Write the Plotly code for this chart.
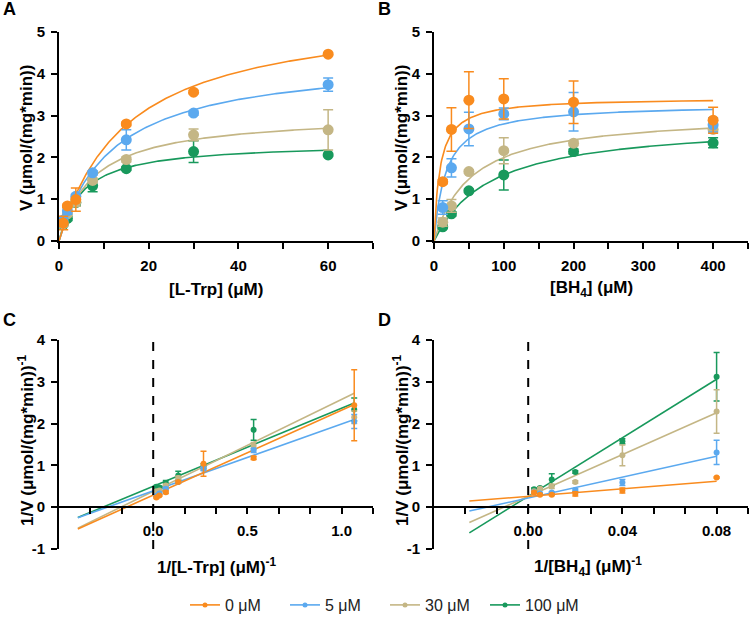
import numpy as np
import plotly.graph_objects as go

# ---------------- data ----------------
SERIES = ["0 μM", "5 μM", "30 μM", "100 μM"]
COLORS = ["#F98B1E", "#5BA9EF", "#C4B685", "#18995C"]

# Panel A: V vs [L-Trp]
TRP_CONC = [0.9375, 1.875, 3.75, 7.5, 15, 30, 60]
V_TRP_0 = [0.43, 0.84, 0.99, None, 2.80, 3.56, 4.47]
V_TRP_5 = [0.50, 0.72, 1.07, 1.63, 2.42, 3.06, 3.74]
V_TRP_30 = [0.41, 0.65, 0.93, 1.45, 1.95, 2.54, 2.66]
V_TRP_100 = [0.40, 0.54, 0.92, 1.32, 1.73, 2.14, 2.06]
SD_TRP_0 = [0.16, 0.04, 0.28, 0.05, 0.04, 0.04, 0.03]
SD_TRP_5 = [0.05, 0.08, 0.05, 0.05, 0.24, 0.05, 0.16]
SD_TRP_30 = [0.05, 0.05, 0.10, 0.05, 0.06, 0.14, 0.48]
SD_TRP_100 = [0.05, 0.05, 0.08, 0.14, 0.04, 0.26, 0.03]
# Michaelis-Menten fit parameters (Vmax, Km)
FIT_TRP_VMAX = [5.56, 4.40, 3.04, 2.36]
FIT_TRP_KM = [15.0, 12.0, 7.6, 5.2]

# Panel B: V vs [BH4]
BH4_CONC = [12.5, 25, 50, 100, 200, 400]
V_BH4_0 = [1.42, 2.67, 3.37, 3.40, 3.32, 2.89]
V_BH4_5 = [0.80, 1.75, 2.68, 3.04, 3.09, 2.78]
V_BH4_30 = [0.45, 0.84, 1.66, 2.16, 2.34, 2.67]
V_BH4_100 = [0.34, 0.65, 1.20, 1.58, 2.14, 2.35]
SD_BH4_0 = [0.05, 0.52, 0.68, 0.48, 0.51, 0.31]
SD_BH4_5 = [0.16, 0.22, 0.40, 0.14, 0.46, 0.17]
SD_BH4_30 = [0.10, 0.15, 0.04, 0.31, 0.06, 0.08]
SD_BH4_100 = [0.04, 0.05, 0.04, 0.36, 0.06, 0.12]
FIT_BH4_VMAX = [3.43, 3.28, 3.06, 2.86]
FIT_BH4_KM = [8.5, 17.0, 53.0, 81.0]

# Panel C: Lineweaver-Burk, L-Trp
INV_TRP = [1.067, 0.533, 0.267, 0.133, 0.067, 0.033, 0.017]
INVV_TRP_0 = [2.44, 1.18, 1.04, 0.60, 0.36, 0.28, 0.23]
INVV_TRP_5 = [2.05, 1.36, 0.92, 0.60, 0.44, 0.33, 0.27]
INVV_TRP_30 = [2.15, 1.47, 0.94, 0.70, 0.52, 0.40, 0.38]
INVV_TRP_100 = [2.34, 1.85, 0.98, 0.76, 0.58, 0.47, 0.49]
SDI_TRP_0 = [0.85, 0.04, 0.30, 0.03, 0.03, 0.02, 0.02]
SDI_TRP_5 = [0.17, 0.05, 0.04, 0.03, 0.03, 0.02, 0.02]
SDI_TRP_30 = [0.15, 0.08, 0.06, 0.04, 0.03, 0.02, 0.03]
SDI_TRP_100 = [0.27, 0.25, 0.06, 0.10, 0.06, 0.03, 0.03]
LB_TRP_SLOPE = [2.03, 1.60, 2.20, 1.87]
LB_TRP_INTERCEPT = [0.29, 0.39, 0.38, 0.50]
LB_TRP_XSPAN = [-0.4, 1.067]

# Panel D: Lineweaver-Burk, BH4
INV_BH4 = [0.08, 0.04, 0.02, 0.01, 0.005, 0.0025]
INVV_BH4_0 = [0.71, 0.40, 0.32, 0.30, 0.30, 0.35]
INVV_BH4_5 = [1.31, 0.59, 0.41, 0.35, 0.33, 0.36]
INVV_BH4_30 = [2.29, 1.24, 0.60, 0.50, 0.44, 0.38]
INVV_BH4_100 = [3.12, 1.58, 0.84, 0.66, 0.46, 0.43]
SDI_BH4_0 = [0.02, 0.06, 0.05, 0.02, 0.02, 0.03]
SDI_BH4_5 = [0.29, 0.07, 0.03, 0.02, 0.02, 0.02]
SDI_BH4_30 = [0.52, 0.25, 0.03, 0.05, 0.03, 0.02]
SDI_BH4_100 = [0.58, 0.06, 0.03, 0.14, 0.03, 0.03]
LB_BH4_SLOPE = [4.5, 12.5, 25.0, 35.0]
LB_BH4_INTERCEPT = [0.26, 0.22, 0.26, 0.26]
LB_BH4_XSPAN = [-0.025, 0.08]

# tick labels
A_XTICKS = [0, 10, 20, 30, 40, 50, 60, 70]
A_XLABELS = ["0", "", "20", "", "40", "", "60", ""]
B_XTICKS = [0, 50, 100, 150, 200, 250, 300, 350, 400, 450]
B_XLABELS = ["0", "", "100", "", "200", "", "300", "", "400", ""]
AB_YTICKS = [0, 1, 2, 3, 4, 5]
C_XTICKS = [k / 6 for k in range(-2, 8)]
C_XLABELS = ["", "", "0.0", "", "", "0.5", "", "", "1.0", ""]
D_XTICKS = [k * 0.04 / 3 for k in range(-2, 8)]
D_XLABELS = ["", "", "0.00", "", "", "0.04", "", "", "0.08", ""]
CD_YTICKS = [-1, 0, 1, 2, 3, 4]

V_TRP = [V_TRP_0, V_TRP_5, V_TRP_30, V_TRP_100]
SD_TRP = [SD_TRP_0, SD_TRP_5, SD_TRP_30, SD_TRP_100]
V_BH4 = [V_BH4_0, V_BH4_5, V_BH4_30, V_BH4_100]
SD_BH4 = [SD_BH4_0, SD_BH4_5, SD_BH4_30, SD_BH4_100]
INVV_TRP = [INVV_TRP_0, INVV_TRP_5, INVV_TRP_30, INVV_TRP_100]
SDI_TRP = [SDI_TRP_0, SDI_TRP_5, SDI_TRP_30, SDI_TRP_100]
INVV_BH4 = [INVV_BH4_0, INVV_BH4_5, INVV_BH4_30, INVV_BH4_100]
SDI_BH4 = [SDI_BH4_0, SDI_BH4_5, SDI_BH4_30, SDI_BH4_100]

# ---------------- layout geometry (pixels) ----------------
W, H = 750, 617
def px(x):
    return x / W
def py(y):
    return 1 - y / H

XA = [px(59), px(373)]
XB = [px(434), px(748)]
Y_TOP = [py(241), py(32)]
Y_BOT = [py(549), py(340)]

FONT = "Liberation Sans, Arial, sans-serif"

fig = go.Figure()

order = [3, 2, 1, 0]  # draw orange last (on top)

# Panel A & B fits and points
for i in order:
    xs = np.linspace(0, max(TRP_CONC), 300)
    fig.add_trace(go.Scatter(x=xs, y=FIT_TRP_VMAX[i] * xs / (FIT_TRP_KM[i] + xs),
                             mode="lines", line=dict(color=COLORS[i], width=1.6),
                             xaxis="x", yaxis="y", showlegend=False, hoverinfo="skip"))
    xs = np.linspace(0, max(BH4_CONC), 400)
    fig.add_trace(go.Scatter(x=xs, y=FIT_BH4_VMAX[i] * xs / (FIT_BH4_KM[i] + xs),
                             mode="lines", line=dict(color=COLORS[i], width=1.6),
                             xaxis="x2", yaxis="y2", showlegend=False, hoverinfo="skip"))
for i in order:
    fig.add_trace(go.Scatter(x=TRP_CONC, y=V_TRP[i], mode="markers",
                             marker=dict(color=COLORS[i], size=11),
                             error_y=dict(type="data", array=SD_TRP[i], color=COLORS[i],
                                          thickness=1.5, width=5),
                             xaxis="x", yaxis="y", showlegend=False))
    fig.add_trace(go.Scatter(x=BH4_CONC, y=V_BH4[i], mode="markers",
                             marker=dict(color=COLORS[i], size=11),
                             error_y=dict(type="data", array=SD_BH4[i], color=COLORS[i],
                                          thickness=1.5, width=5),
                             xaxis="x2", yaxis="y2", showlegend=False))

# Panel C & D
for i in order:
    xs = np.array(LB_TRP_XSPAN)
    fig.add_trace(go.Scatter(x=xs, y=LB_TRP_SLOPE[i] * xs + LB_TRP_INTERCEPT[i],
                             mode="lines", line=dict(color=COLORS[i], width=1.6),
                             xaxis="x3", yaxis="y3", showlegend=False, hoverinfo="skip"))
    xs = np.array(LB_BH4_XSPAN)
    fig.add_trace(go.Scatter(x=xs, y=LB_BH4_SLOPE[i] * xs + LB_BH4_INTERCEPT[i],
                             mode="lines", line=dict(color=COLORS[i], width=1.6),
                             xaxis="x4", yaxis="y4", showlegend=False, hoverinfo="skip"))
for i in order:
    fig.add_trace(go.Scatter(x=INV_TRP, y=INVV_TRP[i], mode="markers",
                             marker=dict(color=COLORS[i], size=6),
                             error_y=dict(type="data", array=SDI_TRP[i], color=COLORS[i],
                                          thickness=1.5, width=3),
                             xaxis="x3", yaxis="y3", showlegend=False))
    fig.add_trace(go.Scatter(x=INV_BH4, y=INVV_BH4[i], mode="markers",
                             marker=dict(color=COLORS[i], size=6),
                             error_y=dict(type="data", array=SDI_BH4[i], color=COLORS[i],
                                          thickness=1.5, width=3),
                             xaxis="x4", yaxis="y4", showlegend=False))

# legend entries
for i in range(4):
    fig.add_trace(go.Scatter(x=[None], y=[None], mode="lines+markers", name=SERIES[i],
                             line=dict(color=COLORS[i], width=1.6),
                             marker=dict(color=COLORS[i], size=5),
                             xaxis="x4", yaxis="y4", showlegend=True))

tickfont = dict(family=FONT, size=15, color="black", weight="bold")
common = dict(showline=True, linecolor="black", linewidth=2, ticks="outside",
              ticklen=6, tickwidth=2, tickcolor="black", showgrid=False,
              zeroline=False, tickfont=tickfont, automargin=False, tickmode="array")

pos0 = Y_BOT[0] + (Y_BOT[1] - Y_BOT[0]) * (1 / 5)

fig.update_layout(
    width=W, height=H,
    margin=dict(l=0, r=0, t=0, b=0, autoexpand=False),
    plot_bgcolor="white", paper_bgcolor="white",
    xaxis=dict(domain=XA, range=[0, 70], tickvals=A_XTICKS, ticktext=A_XLABELS,
               anchor="y", ticklabelstandoff=4, **common),
    yaxis=dict(domain=Y_TOP, range=[0, 5], tickvals=AB_YTICKS,
               ticktext=[str(v) for v in AB_YTICKS], anchor="x", ticklabelstandoff=3, **common),
    xaxis2=dict(domain=XB, range=[0, 450], tickvals=B_XTICKS, ticktext=B_XLABELS,
                anchor="y2", ticklabelstandoff=4, **common),
    yaxis2=dict(domain=Y_TOP, range=[0, 5], tickvals=AB_YTICKS,
                ticktext=[str(v) for v in AB_YTICKS], anchor="x2", ticklabelstandoff=3, **common),
    xaxis3=dict(domain=XA, range=[-0.5, 7 / 6], tickvals=C_XTICKS, ticktext=C_XLABELS,
                anchor="free", position=pos0, ticklabelstandoff=4, **common),
    yaxis3=dict(domain=Y_BOT, range=[-1, 4], tickvals=CD_YTICKS,
                ticktext=[str(v) for v in CD_YTICKS], anchor="x3", ticklabelstandoff=3, **common),
    xaxis4=dict(domain=XB, range=[-0.04, 0.28 / 3], tickvals=D_XTICKS, ticktext=D_XLABELS,
                anchor="free", position=pos0, ticklabelstandoff=4, **common),
    yaxis4=dict(domain=Y_BOT, range=[-1, 4], tickvals=CD_YTICKS,
                ticktext=[str(v) for v in CD_YTICKS], anchor="x4", ticklabelstandoff=3, **common),
    legend=dict(orientation="h", x=px(385), xanchor="center", y=py(605), yanchor="middle",
                entrywidth=55, entrywidthmode="pixels",
                font=dict(family=FONT, size=16, color="#222"), bgcolor="rgba(0,0,0,0)"),
    showlegend=True,
)

# dashed zero lines in C and D
for xr, yr in (("x3", "y3"), ("x4", "y4")):
    fig.add_shape(type="line", xref=xr, yref=yr, x0=0, x1=0, y0=-1, y1=4,
                  line=dict(color="black", width=2, dash="dash"), layer="above")

def ann(text, x, y, size=18, angle=0):
    fig.add_annotation(text=text, x=px(x), y=py(y), xref="paper", yref="paper",
                       showarrow=False, textangle=angle, xanchor="center", yanchor="middle",
                       font=dict(family=FONT, size=size, color="black"))

# panel letters
ann("<b>A</b>", 9, 9, 18)
ann("<b>B</b>", 384, 9, 18)
ann("<b>C</b>", 9, 320, 18)
ann("<b>D</b>", 384, 320, 18)
# axis titles
ann("<b>V (μmol/(mg*min))</b>", 26, 138, 17, -90)
ann("<b>V (μmol/(mg*min))</b>", 401, 138, 17, -90)
ann("<b>[L-Trp] (μM)</b>", 216, 289, 17)
ann("<b>[BH<sub>4</sub>] (μM)</b>", 591, 289, 17)
ann("<b>1/V (μmol/(mg*min))<sup>-1</sup></b>", 26, 440, 17, -90)
ann("<b>1/V (μmol/(mg*min))<sup>-1</sup></b>", 401, 440, 17, -90)
ann("<b>1/[L-Trp] (μM)<sup>-1</sup></b>", 217, 566, 17)
ann("<b>1/[BH<sub>4</sub>] (μM)<sup>-1</sup></b>", 588, 566, 17)

fig.write_html("out.html", config={"displayModeBar": False},
               post_script="document.body.style.margin='0px';document.body.style.overflow='hidden';")
